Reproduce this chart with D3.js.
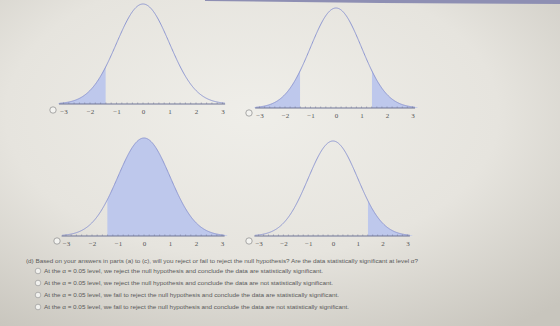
<!DOCTYPE html>
<html><head><meta charset="utf-8">
<script src="https://cdn.jsdelivr.net/npm/d3@7"></script>
<style>html,body{margin:0;padding:0;overflow:hidden;background:#e2e0da}</style>
</head><body>
<svg id="c" width="560" height="326"></svg>
<script>
// ---- data ----
const tickLabels = ["\u22123","\u22122","\u22121","0","1","2","3"];
const tickValues = [-3,-2,-1,0,1,2,3];
const critical = 1.41;
// shaded regions per panel: [from, to]
const shadeA = [[-3.2, -1.41]];
const shadeB = [[-3.2, -1.41],[1.41, 3.2]];
const shadeC = [[-1.41, 3.2]];
const shadeD = [[1.41, 3.2]];
const question = "(d) Based on your answers in parts (a) to (c), will you reject or fail to reject the null hypothesis? Are the data statistically significant at level \u03b1?";
const options = [
 "At the \u03b1 = 0.05 level, we reject the null hypothesis and conclude the data are statistically significant.",
 "At the \u03b1 = 0.05 level, we reject the null hypothesis and conclude the data are not statistically significant.",
 "At the \u03b1 = 0.05 level, we fail to reject the null hypothesis and conclude the data are statistically significant.",
 "At the \u03b1 = 0.05 level, we fail to reject the null hypothesis and conclude the data are not statistically significant."
];

// ---- layout ----
const panels = [
 {shade: shadeA, x0:143, unit:26.5, axisY:104, peakY:4, radioX:53, labY:112},
 {shade: shadeB, x0:336, unit:25.5, axisY:108, peakY:8, radioX:249, labY:115},
 {shade: shadeC, x0:144, unit:26.0, axisY:236, peakY:138, radioX:57, labY:243},
 {shade: shadeD, x0:333, unit:24.8, axisY:236, peakY:141, radioX:249, labY:243}
];

const svg = d3.select("#c");
const defs = svg.append("defs");
const g1 = defs.append("radialGradient").attr("id","bg").attr("cx","45%").attr("cy","35%").attr("r","80%");
g1.append("stop").attr("offset","0%").attr("stop-color","#efeee9");
g1.append("stop").attr("offset","55%").attr("stop-color","#e6e4de");
g1.append("stop").attr("offset","100%").attr("stop-color","#c8c5bd");
svg.append("rect").attr("width",560).attr("height",326).attr("fill","url(#bg)");
// top band of screen photo
svg.append("path").attr("d","M205,0 L560,0 L560,4 L380,3 L205,1 Z").attr("fill","#8e8fb3");

const pdf = z => Math.exp(-z*z/2)/Math.sqrt(2*Math.PI);
const pmax = pdf(0);

panels.forEach(p => {
  const x = d3.scaleLinear().domain([-3,3]).range([p.x0-3*p.unit, p.x0+3*p.unit]);
  const y = d3.scaleLinear().domain([0,pmax]).range([p.axisY, p.peakY]);
  const g = svg.append("g");
  const area = d3.area().x(d=>x(d)).y0(p.axisY).y1(d=>y(pdf(d)));
  p.shade.forEach(([a,b]) => {
    const pts = d3.range(a, b, 0.02).concat([b]);
    g.append("path").attr("d", area(pts)).attr("fill","#bec8ec");
  });
  const line = d3.line().x(d=>x(d)).y(d=>y(pdf(d)));
  g.append("path").attr("d", line(d3.range(-3.15,3.1,0.02))).attr("fill","none")
    .attr("stroke","#8f98d2").attr("stroke-width",1);
  // axis
  const axis = d3.axisBottom(x).tickValues(tickValues).tickFormat((d,i)=>tickLabels[i]).tickSize(0).tickPadding(5);
  const ag = g.append("g").attr("transform",`translate(0,${p.axisY})`).call(axis);
  ag.select(".domain").attr("d",`M${x(-3.17)},0H${x(3.1)}`).attr("stroke","#6f7596").attr("stroke-width",1);
  ag.selectAll("text").attr("font-family","Liberation Serif, serif").attr("font-size",7).attr("fill","#555");
  // minor ticks
  g.selectAll(".mt").data(d3.range(-3,3.01,0.2)).enter().append("line")
    .attr("x1",d=>x(d)).attr("x2",d=>x(d)).attr("y1",p.axisY-1.5).attr("y2",p.axisY)
    .attr("stroke","#7a7f9c").attr("stroke-width",0.6);
  // radio
  g.append("circle").attr("cx",p.radioX).attr("cy",p.labY-2).attr("r",3.2)
    .attr("fill","#f3f3f0").attr("stroke","#888").attr("stroke-width",0.7);
});

// text block
svg.append("text").attr("x",26).attr("y",263).text(question)
  .attr("font-family","Liberation Sans, Arial, sans-serif").attr("font-size",6).attr("fill","#5a5a5a")
  .attr("textLength",392).attr("lengthAdjust","spacingAndGlyphs");
const optEnds = [323,333,339,349];
const optY = [273,285,297,309];
options.forEach((t,i) => {
  svg.append("circle").attr("cx",38).attr("cy",optY[i]-2).attr("r",2.8)
    .attr("fill","#f1f1ee").attr("stroke","#999").attr("stroke-width",0.7);
  svg.append("text").attr("x",44).attr("y",optY[i]).text(t)
    .attr("font-family","Liberation Sans, Arial, sans-serif").attr("font-size",6).attr("fill","#5a5a5a")
    .attr("textLength",optEnds[i]-44).attr("lengthAdjust","spacingAndGlyphs");
});
</script>
</body></html>
